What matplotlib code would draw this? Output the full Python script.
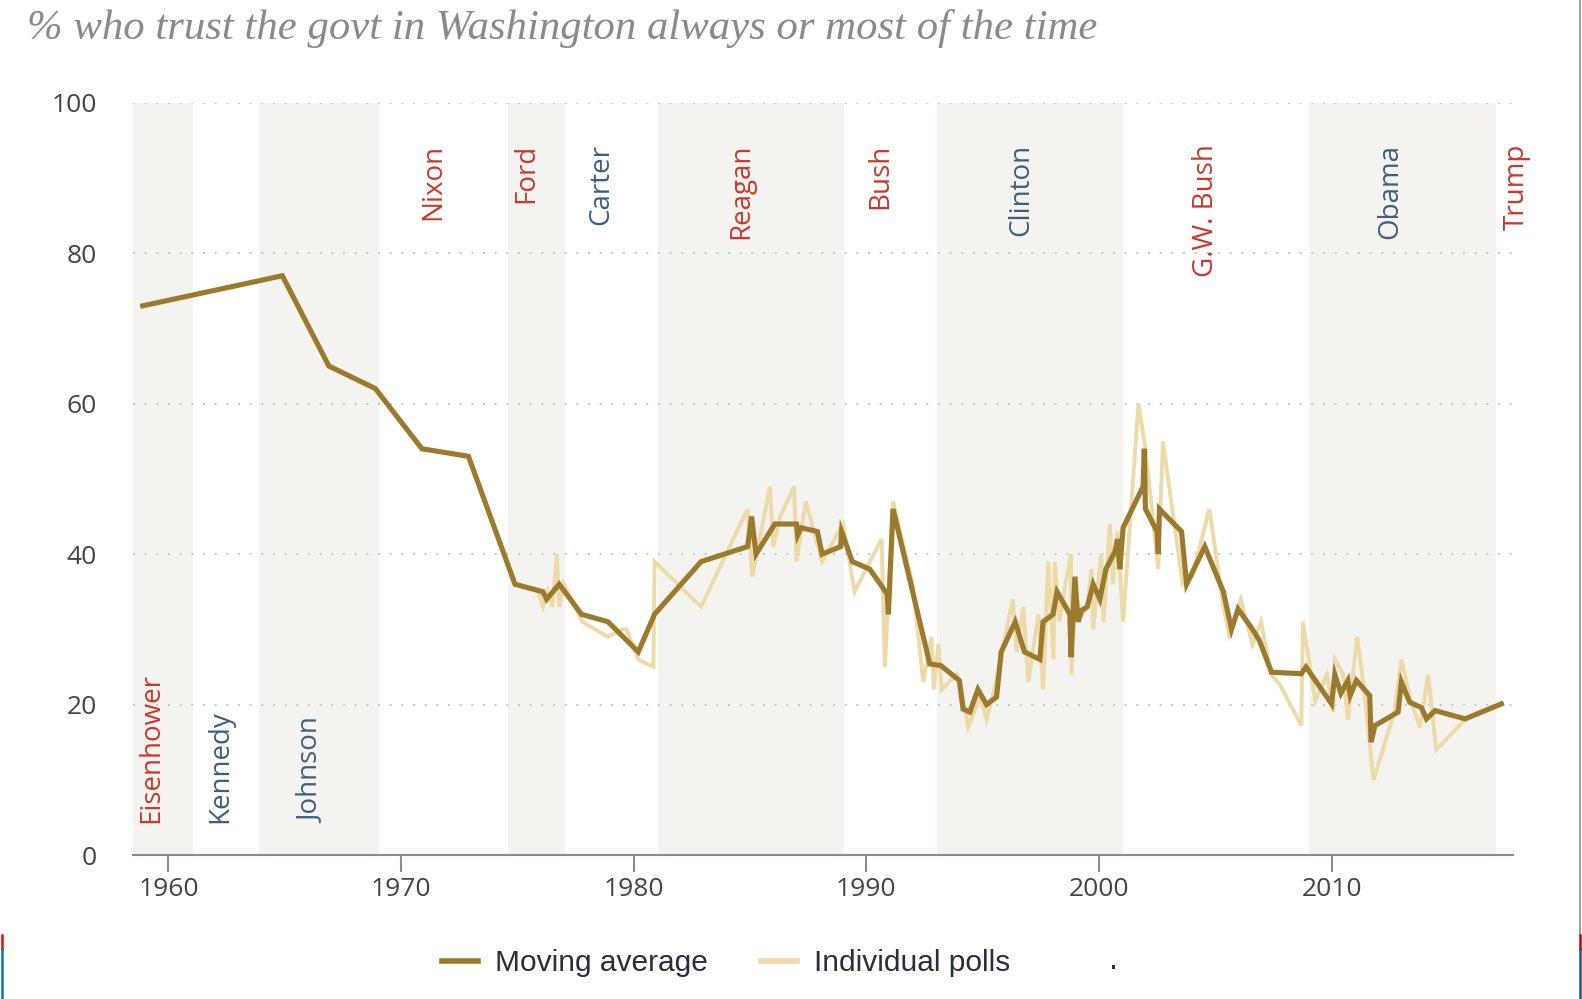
import matplotlib.pyplot as plt
from matplotlib.lines import Line2D

# Datos
ma_years = [1958.9, 1964.9, 1966.9, 1968.9, 1970.9, 1972.9, 1974.9, 1976.1, 1976.26, 1976.8,
            1977.76, 1978.9, 1980.2, 1980.9, 1982.9, 1984.9, 1985.07, 1985.26, 1986.07, 1987.0,
            1987.05, 1987.2, 1987.9, 1988.1, 1988.9, 1988.94, 1989.4, 1990.15, 1990.9, 1990.95,
            1991.15, 1992.73, 1993.2, 1994.0, 1994.16, 1994.45, 1994.8, 1995.17, 1995.6, 1995.8,
            1996.4, 1996.8, 1997.46, 1997.6, 1998.03, 1998.2, 1998.75, 1998.8, 1998.97, 1999.1,
            1999.25, 1999.5, 1999.75, 2000.04, 2000.3, 2000.7, 2000.8, 2000.9, 2001.04, 2001.9,
            2001.95, 2002.0, 2002.5, 2002.55, 2002.6, 2003.55, 2003.77, 2004.55, 2005.35, 2005.7,
            2005.98, 2006.56, 2006.9, 2007.42, 2008.7, 2008.9, 2010.0, 2010.14, 2010.4, 2010.7,
            2010.8, 2011.07, 2011.64, 2011.7, 2011.86, 2012.86, 2013.0, 2013.36, 2013.86, 2014.08,
            2014.45, 2015.74, 2017.3]
ma_vals = [73, 77, 65, 62, 54, 53, 36, 35, 34, 36,
           32, 31, 27, 32, 39, 41, 45, 40, 44, 44,
           42.5, 43.5, 43, 40, 41, 43, 39, 38, 34.7, 32,
           46, 25.4, 25.2, 23.2, 19.4, 19, 22, 20, 21, 27,
           31, 27, 26, 31, 32, 35, 32, 26.3, 37, 31,
           32.5, 33, 36, 34, 38, 40.4, 42, 38, 43.5, 49,
           54, 46, 43, 40, 46, 43, 36, 41, 35, 30,
           32.7, 30.2, 28.5, 24.3, 24.1, 25, 20.1, 24, 21.5, 23.2,
           21.2, 23.2, 21.2, 15, 17.2, 19, 23, 20.3, 19.6, 18.1,
           19.2, 18.1, 20.1]

poll_years = [1958.9, 1964.9, 1966.9, 1968.9, 1970.9, 1972.9, 1974.9, 1975.9, 1976.1, 1976.3,
              1976.5, 1976.7, 1976.8, 1977.0, 1977.8, 1978.9, 1979.5, 1979.7, 1980.2, 1980.85,
              1980.9, 1982.9, 1984.9, 1985.1, 1985.86, 1986.0, 1986.3, 1986.9, 1987.0, 1987.4,
              1988.1, 1989.0, 1989.5, 1990.66, 1990.8, 1991.15, 1992.0, 1992.45, 1992.8, 1992.9,
              1993.1, 1993.24, 1993.88, 1994.1, 1994.38, 1994.9, 1995.17, 1995.5, 1995.9, 1996.3,
              1996.46, 1996.75, 1996.96, 1997.4, 1997.6, 1997.82, 1998.05, 1998.1, 1998.3, 1998.5,
              1998.8, 1998.82, 1999.0, 1999.3, 1999.5, 1999.68, 1999.75, 2000.1, 2000.2, 2000.47,
              2000.6, 2000.8, 2001.04, 2001.7, 2002.0, 2002.55, 2002.75, 2003.6, 2004.0, 2004.75,
              2005.35, 2005.6, 2006.1, 2006.6, 2006.97, 2007.4, 2007.77, 2008.7, 2008.77, 2009.3,
              2009.8, 2010.07, 2010.14, 2010.5, 2010.7, 2011.1, 2011.4, 2011.8, 2012.3, 2012.7,
              2013.0, 2013.4, 2013.8, 2014.15, 2014.5, 2015.74, 2017.3]
poll_vals = [73, 77, 65, 62, 54, 53, 36, 35, 33, 35,
             33, 40, 33, 36, 31, 29, 30, 30, 26, 25,
             39, 33, 46, 37, 49, 41, 45, 49, 39, 47,
             39, 44, 35, 42, 25, 47, 36, 23, 29, 22,
             28, 22, 24, 22, 17, 21, 18, 22, 28, 34,
             27, 33, 23, 32, 22, 39, 26, 39, 31, 35,
             40, 24, 34, 32, 33, 38, 30, 40, 31, 44,
             36, 43, 31, 60, 54, 38, 55, 36, 37, 46,
             33, 29.3, 34, 28, 31, 24, 22.7, 17.2, 31, 20.5,
             24, 19, 26, 24, 18, 29, 22, 10, 15, 19,
             26, 20.5, 17, 24, 14, 18, 20]

presidentes = ["Eisenhower", "Kennedy", "Johnson", "Nixon", "Ford", "Carter",
               "Reagan", "Bush", "Clinton", "G.W. Bush", "Obama", "Trump"]
partidos = ["R", "D", "D", "R", "R", "D", "R", "R", "D", "R", "D", "R"]
inicio = [1953.05, 1961.05, 1963.9, 1969.05, 1974.6, 1977.05, 1981.05, 1989.05,
          1993.05, 2001.05, 2009.05, 2017.05]
fin = [1961.05, 1963.9, 1969.05, 1974.6, 1977.05, 1981.05, 1989.05, 1993.05,
       2001.05, 2009.05, 2017.05, 2021.05]
etiqueta_x = [1959.28, 1962.22, 1966.16, 1971.38, 1975.4, 1978.61, 1984.64, 1990.58,
              1996.65, 2004.59, 2012.52, 2017.95]
sombreado = [True, False, True, False, True, False, True, False, True, False, True, False]

colores_partido = {"R": "#c8392f", "D": "#3d5f80"}
color_ma = "#9b7a2d"
color_polls = "#ecdaa9"

fig = plt.figure(figsize=(15.82, 9.99), dpi=100)
ax = fig.add_axes([0.0839, 0.1441, 0.9564 - 0.0839, 0.8972 - 0.1441])

xmin, xmax = 1958.47, 2017.8
for i in range(len(presidentes)):
    if sombreado[i]:
        ax.axvspan(max(inicio[i], xmin), min(fin[i], xmax), color="#f4f3ef", lw=0, zorder=0)
    abajo = i < 3
    ax.text(etiqueta_x[i], 4.2 if abajo else 94.5, presidentes[i], rotation=90,
            ha="center", va="bottom" if abajo else "top", fontsize=20,
            family="Open Sans", color=colores_partido[partidos[i]], zorder=5)

ax.plot(poll_years, poll_vals, color=color_polls, lw=2.8, zorder=3, solid_joinstyle="miter")
ax.plot(ma_years, ma_vals, color=color_ma, lw=3.7, zorder=4, solid_joinstyle="miter")

ax.set_xlim(xmin, xmax)
ax.set_ylim(0, 100)
ax.set_yticks([0, 20, 40, 60, 80, 100])
ax.set_xticks([1960, 1970, 1980, 1990, 2000, 2010])
ax.yaxis.grid(True, color="#c4c4c4", linestyle=(0, (1, 5)), lw=1.4)
ax.set_axisbelow(True)

for lado in ["top", "right", "left"]:
    ax.spines[lado].set_visible(False)
ax.spines["bottom"].set_color("#8c8c8c")
ax.spines["bottom"].set_linewidth(1.5)
ax.tick_params(axis="y", length=0, pad=26, labelsize=19, labelcolor="#444444")
ax.tick_params(axis="x", length=12, width=1.5, color="#8c8c8c", pad=4,
               labelsize=19, labelcolor="#444444")
for lbl in ax.get_xticklabels() + ax.get_yticklabels():
    lbl.set_family("Open Sans")

fig.text(0.017, 0.961, "% who trust the govt in Washington always or most of the time",
         family="Liberation Serif", style="italic", fontsize=30.8, color="#8a8a8a",
         va="baseline")

manejadores = [Line2D([], [], color=color_ma, lw=4),
               Line2D([], [], color=color_polls, lw=4)]
fig.legend(manejadores, ["Moving average", "Individual polls"], loc="center",
           bbox_to_anchor=(0.459, 0.036), ncol=2, frameon=False,
           prop={"family": "Liberation Sans", "size": 21.5}, labelcolor="#2a2d3d",
           handlelength=1.2, handletextpad=0.55, columnspacing=1.8)
fig.text(0.704, 0.03, ".", fontsize=20, color="#2a2d3d", ha="center")

# bordes de la captura
fig.add_artist(Line2D([0.9987, 0.9987], [0.064, 1], color="#a0a0a0", lw=1.5))
fig.add_artist(Line2D([0.9987, 0.9987], [0.050, 0.064], color="#c0001a", lw=1.8))
fig.add_artist(Line2D([0.9987, 0.9987], [0.0, 0.050], color="#0a5a9a", lw=1.8))
fig.add_artist(Line2D([0.001, 0.001], [0.050, 0.064], color="#ff0000", lw=1.8))
fig.add_artist(Line2D([0.001, 0.001], [0.0, 0.050], color="#0a6ec0", lw=1.8))

fig.savefig("out.png", dpi=100)
